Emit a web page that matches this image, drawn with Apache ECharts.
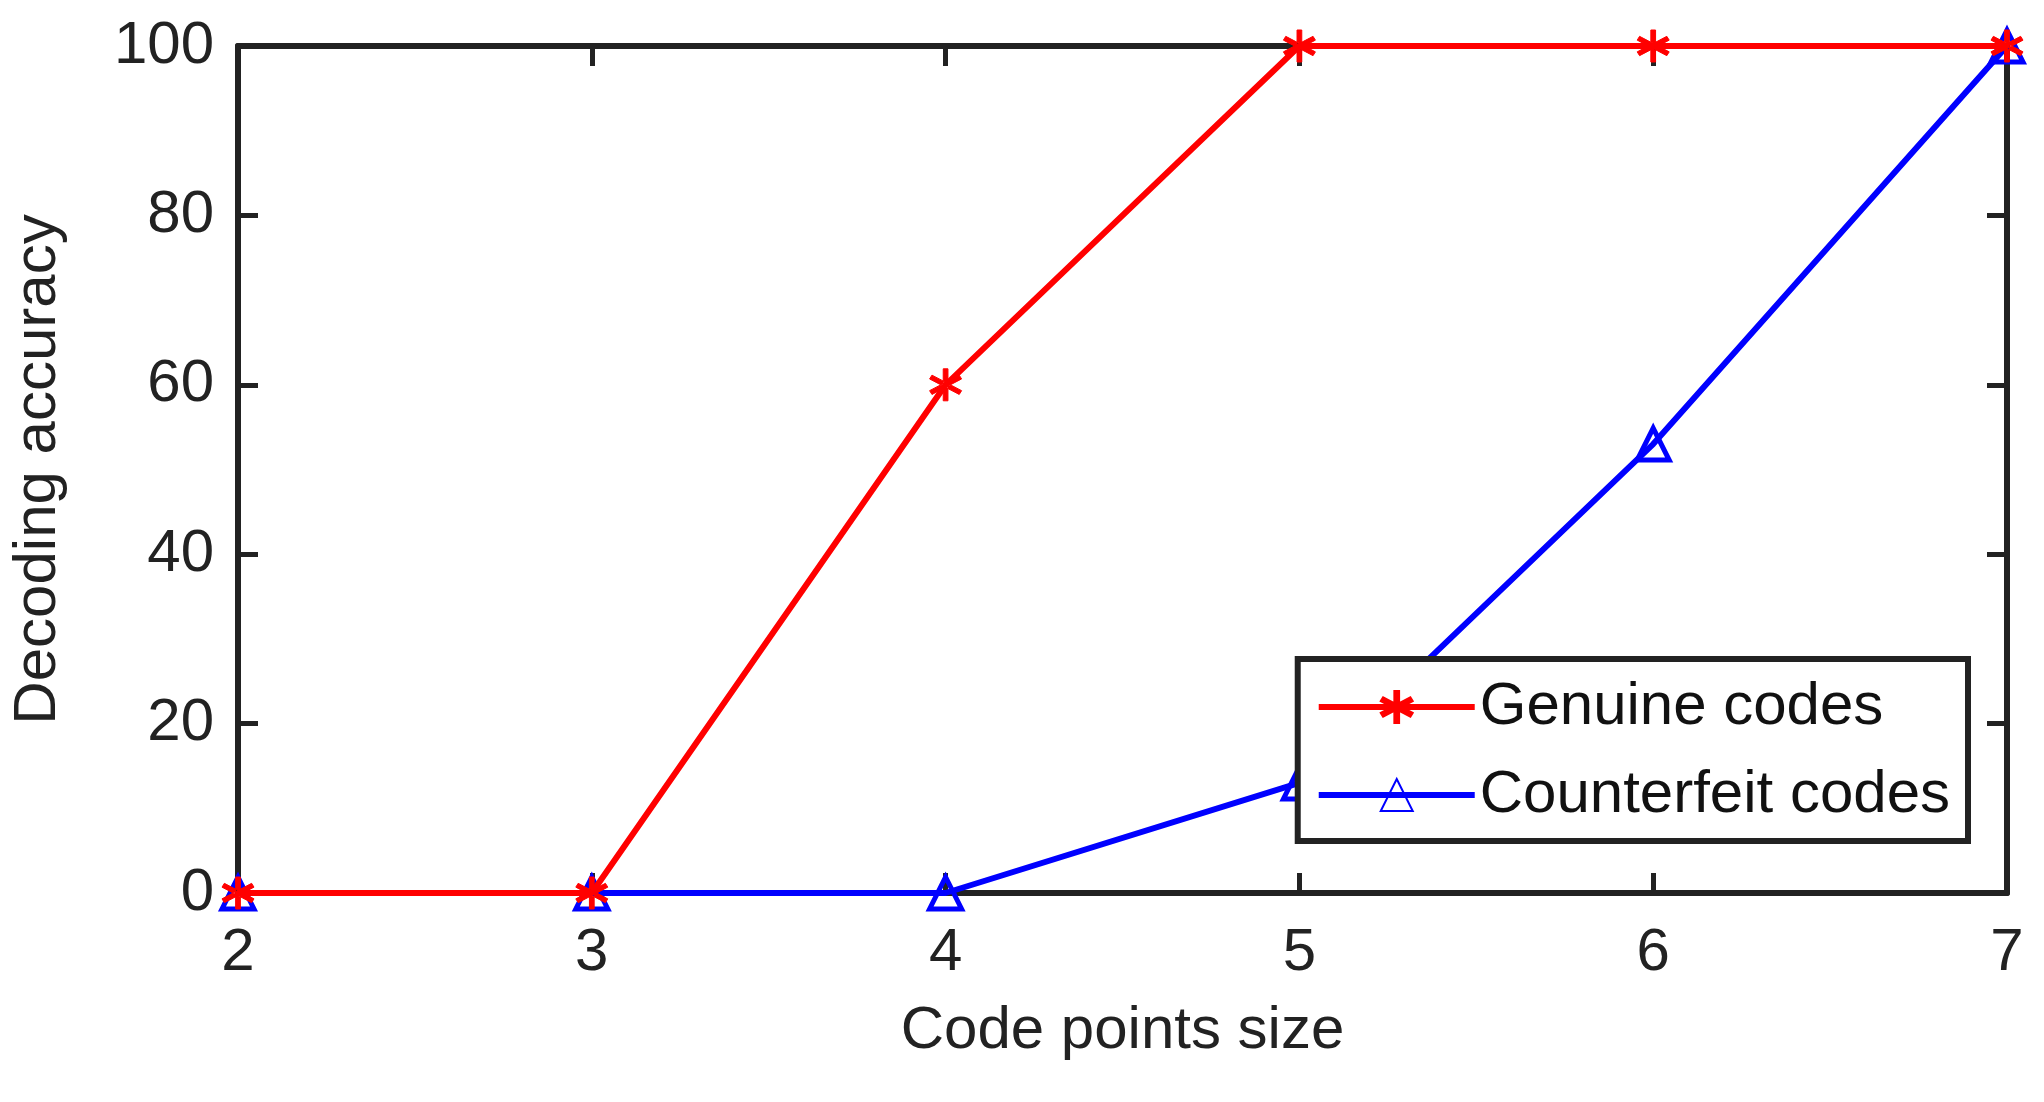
<!DOCTYPE html>
<html>
<head>
<meta charset="utf-8">
<script src="https://cdn.jsdelivr.net/npm/echarts@6/dist/echarts.min.js"></script>
<style>html,body{margin:0;padding:0;background:#fff}#main{width:2044px;height:1102px}</style>
</head>
<body>
<div id="main"></div>
<script>
var xValues = [2, 3, 4, 5, 6, 7];
var genuine = [0, 0, 60, 100, 100, 100];
var counterfeit = [0, 0, 0, 13, 53, 100];

var star = 'path://M-1.4,-10L1.4,-10L1.4,10L-1.4,10Z M8.06,6.04L9.46,3.66L-8.06,-6.04L-9.46,-3.66Z M-8.06,6.04L-9.46,3.66L8.06,-6.04L9.46,-3.66Z';

function pairs(v) { return xValues.map(function (x, i) { return [x, v[i]]; }); }

var chart = echarts.init(document.getElementById('main'));
var font = 'Arial, "Liberation Sans", sans-serif';
var axisCommon = {
  axisLine: { show: true, onZero: false, lineStyle: { color: '#222', width: 6 } },
  axisTick: { show: true, inside: true, length: 20, lineStyle: { color: '#222', width: 5 } },
  splitLine: { show: false }
};
chart.setOption({
  animation: false,
  grid: { left: 228, right: 37, top: 46, bottom: 209 },
  xAxis: [
    Object.assign({ type: 'value', min: 2, max: 7, interval: 1, position: 'bottom',
      name: 'Code points size', nameLocation: 'middle', nameGap: 108,
      nameTextStyle: { fontSize: 60, color: '#222', fontFamily: font },
      axisLabel: { fontSize: 60, color: '#222', margin: 30, fontFamily: font } }, axisCommon),
    Object.assign({ type: 'value', min: 2, max: 7, interval: 1, position: 'top',
      axisLabel: { show: false } }, axisCommon)
  ],
  yAxis: [
    Object.assign({ type: 'value', min: 0, max: 100, interval: 20, position: 'left',
      name: 'Decoding accuracy', nameLocation: 'middle', nameGap: 170,
      nameTextStyle: { fontSize: 60, color: '#222', fontFamily: font },
      axisLabel: { fontSize: 60, color: '#222', margin: 24, fontFamily: font } }, axisCommon),
    Object.assign({ type: 'value', min: 0, max: 100, interval: 20, position: 'right',
      axisLabel: { show: false } }, axisCommon)
  ],
  legend: {
    orient: 'vertical', right: 76, bottom: 261,
    backgroundColor: '#fff', borderColor: '#222', borderWidth: 6,
    padding: [18, 18, 16, 18], itemGap: 28, itemWidth: 156, itemHeight: 40,
    textStyle: { fontSize: 60, color: '#111', fontFamily: font },
    data: [
      { name: 'Genuine codes', lineStyle: { width: 6 } },
      { name: 'Counterfeit codes', lineStyle: { width: 6 } }
    ]
  },
  series: [
    { name: 'Genuine codes', type: 'line', data: pairs(genuine), z: 3,
      symbol: star, symbolSize: 32,
      lineStyle: { color: '#ff0000', width: 6 },
      itemStyle: { color: '#ff0000', borderColor: '#ff0000', borderWidth: 1 } },
    { name: 'Counterfeit codes', type: 'line', data: pairs(counterfeit), z: 2,
      symbol: 'triangle', symbolSize: 32,
      lineStyle: { color: '#0000ff', width: 6 },
      itemStyle: { color: 'rgba(0,0,0,0)', borderColor: '#0000ff', borderWidth: 5 } }
  ]
});
</script>
</body>
</html>
